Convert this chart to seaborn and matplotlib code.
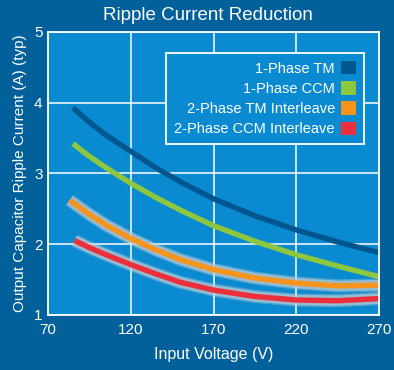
import numpy as np
import pandas as pd
import matplotlib
matplotlib.use('Agg')
import matplotlib.pyplot as plt
import matplotlib.patheffects as pe
from matplotlib.patches import Patch
import seaborn as sns

# values
volts_tm1 = [85, 95, 105, 120, 135, 150, 170, 195, 220, 245, 270]
tm_1ph = [3.93, 3.72, 3.54, 3.31, 3.08, 2.88, 2.64, 2.40, 2.20, 2.03, 1.88]

volts_ccm1 = [85, 95, 105, 120, 135, 150, 170, 195, 220, 245, 270]
ccm_1ph = [3.42, 3.24, 3.08, 2.86, 2.66, 2.48, 2.26, 2.04, 1.85, 1.69, 1.54]

volts_tm2 = [83, 95, 105, 120, 135, 150, 170, 195, 220, 245, 270]
tm_2ph = [2.62, 2.42, 2.27, 2.08, 1.92, 1.78, 1.64, 1.52, 1.45, 1.41, 1.42]

volts_ccm2 = [86, 95, 105, 120, 135, 150, 170, 195, 220, 245, 270]
ccm_2ph = [2.05, 1.95, 1.85, 1.71, 1.58, 1.46, 1.35, 1.26, 1.21, 1.20, 1.23]

labels = ['1-Phase TM', '1-Phase CCM', '2-Phase TM Interleave', '2-Phase CCM Interleave']
colors = ['#00578f', '#8dc63f', '#f7941d', '#ed2f3b']
xticks = [70, 120, 170, 220, 270]
yticks = [1, 2, 3, 4, 5]

bg = '#02609a'
plot_bg = '#0a8ad0'
glow = '#c0ccd4'

df = pd.concat([
    pd.DataFrame({'V': volts_tm1, 'I': tm_1ph, 'series': labels[0]}),
    pd.DataFrame({'V': volts_ccm1, 'I': ccm_1ph, 'series': labels[1]}),
    pd.DataFrame({'V': volts_tm2, 'I': tm_2ph, 'series': labels[2]}),
    pd.DataFrame({'V': volts_ccm2, 'I': ccm_2ph, 'series': labels[3]}),
])

sns.set_style('white')
plt.rcParams['font.family'] = ['Liberation Sans', 'DejaVu Sans']

fig = plt.figure(figsize=(3.94, 3.70), dpi=100, facecolor=bg)
ax = fig.add_axes([0.122, 0.149, 0.840, 0.765])
ax.set_facecolor(plot_bg)

sns.lineplot(data=df, x='V', y='I', hue='series', hue_order=labels,
             palette=colors, linewidth=3.9, legend=False, ax=ax,
             sort=False, estimator=None)

# soft light halo under the two interleave curves
for line in ax.get_lines()[2:4]:
    line.set_path_effects([
        pe.Stroke(linewidth=9.5, foreground=glow, alpha=0.35),
        pe.Stroke(linewidth=7.5, foreground=glow, alpha=0.65),
        pe.Normal(),
    ])
for line in ax.get_lines():
    line.set_solid_capstyle('butt')
    line.set_solid_joinstyle('round')

ax.set_xlim(70, 270)
ax.set_ylim(1, 5)
ax.set_xticks(xticks)
ax.set_yticks(yticks)
ax.grid(True, color='white', linewidth=1.1)
ax.set_axisbelow(True)
for s in ax.spines.values():
    s.set_color('white')
    s.set_linewidth(1.3)
ax.tick_params(colors='white', labelsize=11, length=0)
ax.tick_params(axis='x', pad=6)
ax.tick_params(axis='y', pad=4)

ax.set_xlabel('Input Voltage (V)', color='white', fontsize=11.5, labelpad=7)
ax.set_ylabel('Output Capacitor Ripple Current (A) (typ)', color='white',
              fontsize=11, labelpad=5)
fig.text(0.528, 0.945, 'Ripple Current Reduction', color='white',
         fontsize=13.5, ha='center', va='baseline')

handles = [Patch(facecolor=c, edgecolor='none') for c in colors]
leg = ax.legend(handles, labels, loc='upper right', bbox_to_anchor=(0.955, 0.926),
                borderaxespad=0, markerfirst=False, fancybox=False,
                fontsize=10.5, handlelength=1.05, handleheight=1.05,
                handletextpad=0.4, labelspacing=0.38, borderpad=0.55,
                facecolor=plot_bg, edgecolor='white', framealpha=1)
leg.get_frame().set_linewidth(1.3)
for t in leg.get_texts():
    t.set_color('white')

fig.savefig('out.png', dpi=100, facecolor=bg)
